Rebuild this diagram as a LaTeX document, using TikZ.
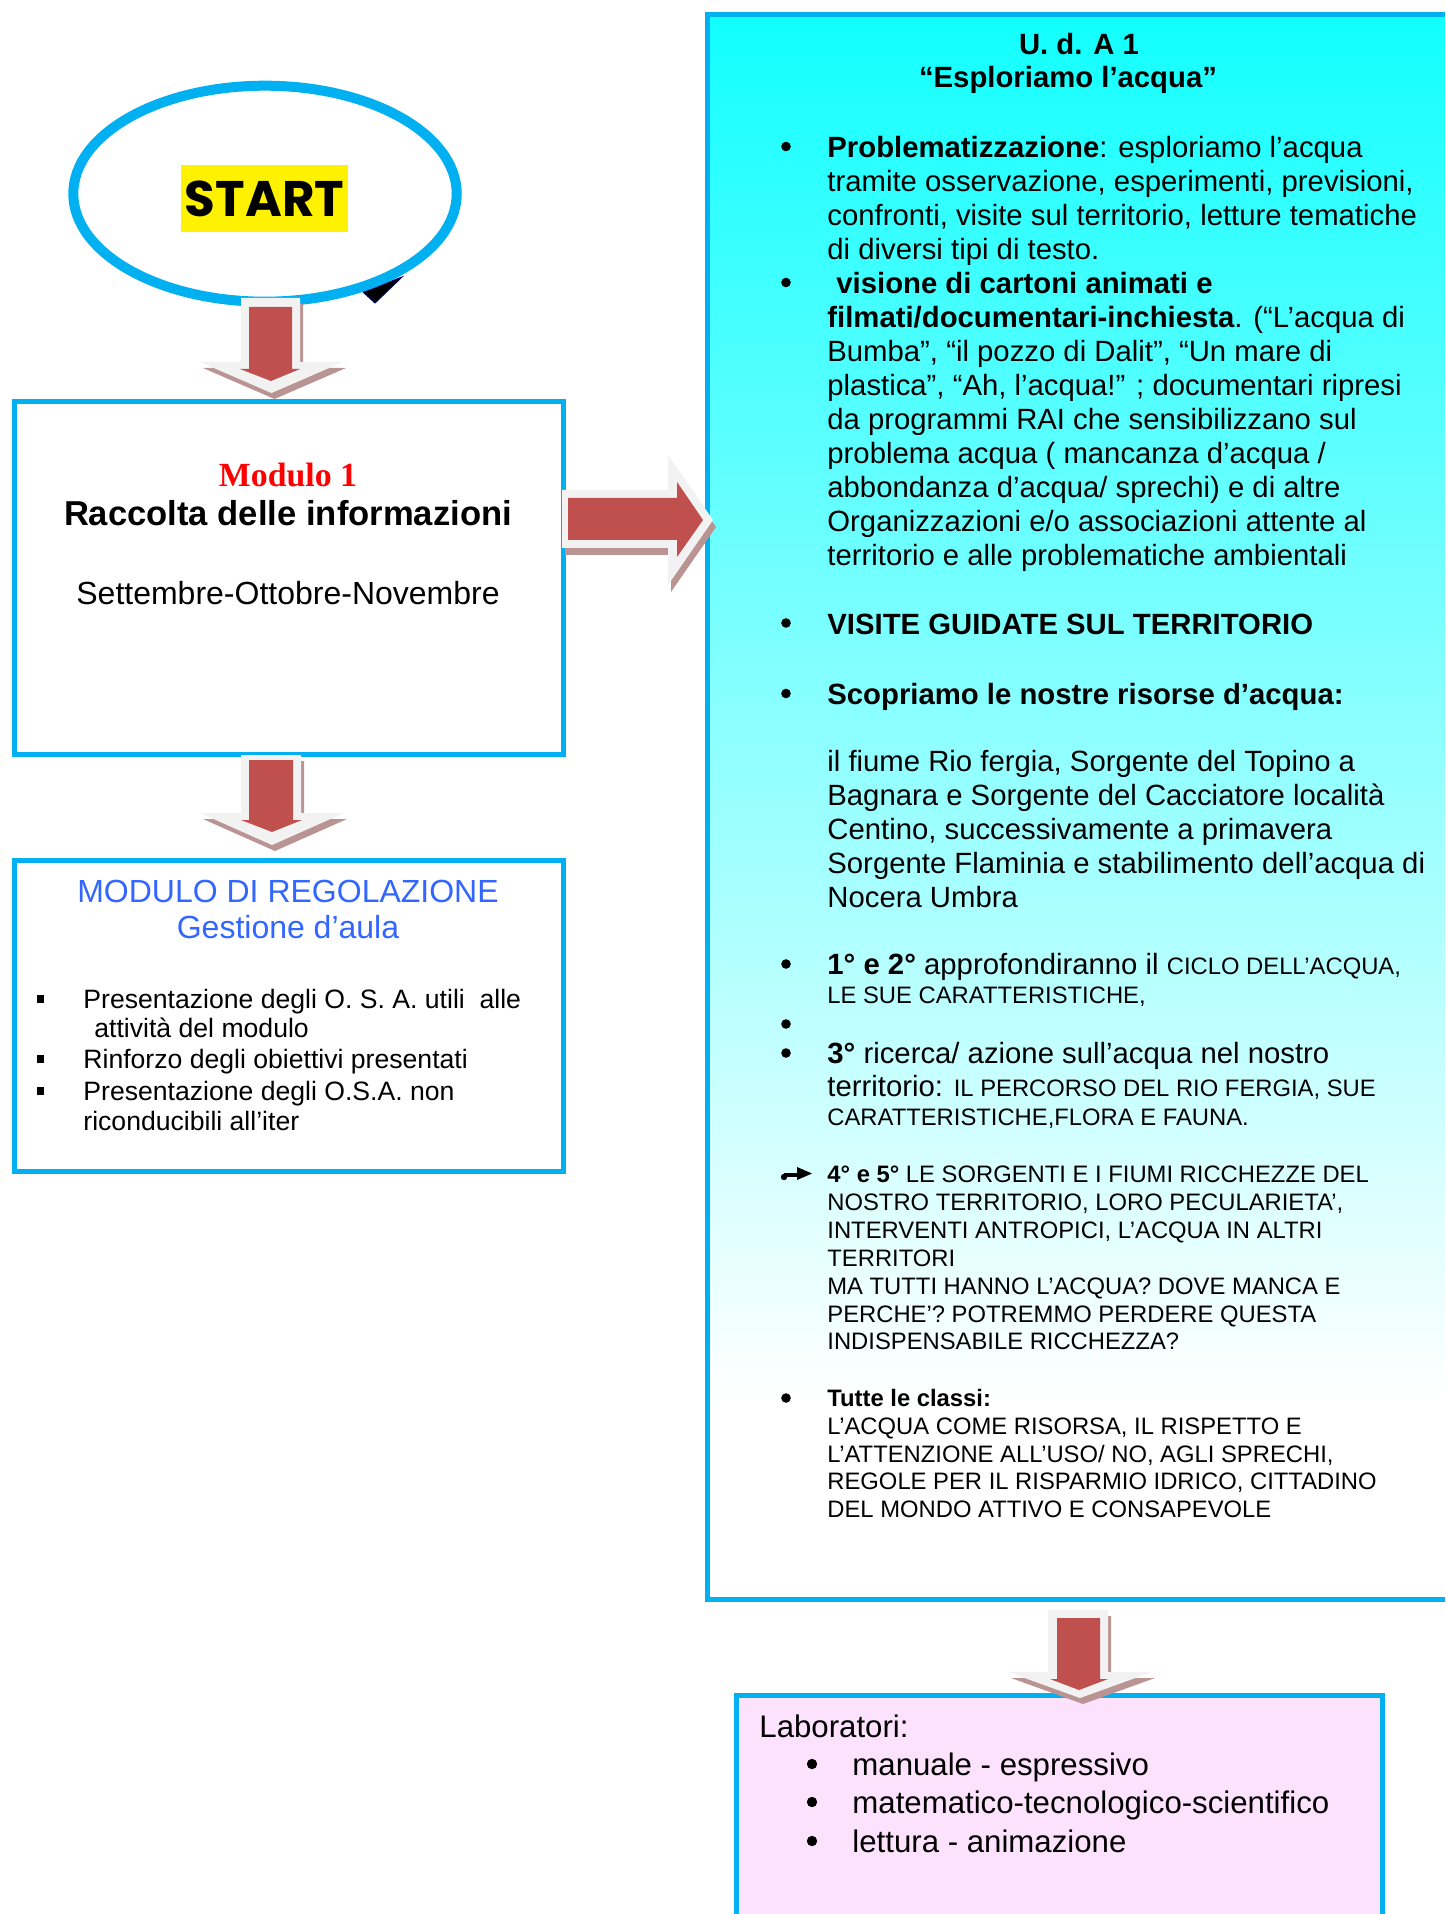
\documentclass[tikz,border=0pt]{standalone}
\usepackage{fontspec}
\setmainfont{Liberation Sans}
\newfontfamily\serifrm{Liberation Serif}
\newfontfamily\startfont{Poppins}
\usetikzlibrary{shapes.geometric}
\definecolor{cyanbd}{RGB}{0,176,240}
\definecolor{arrred}{RGB}{192,80,77}
\definecolor{arrlight}{RGB}{242,242,242}
\definecolor{arrshadow}{RGB}{185,148,147}
\definecolor{topcyan}{RGB}{18,255,255}
\definecolor{pinkfill}{RGB}{253,226,253}
\definecolor{regblue}{RGB}{51,102,255}
\definecolor{navytri}{RGB}{0,0,110}
\newcommand\mainsz{\fontsize{14.65}{17}\selectfont}
\newcommand\smallsz{\fontsize{11.9}{14}\selectfont}
\newcommand\listsz{\fontsize{13.3}{15}\selectfont}
\newcommand\labsz{\fontsize{15.6}{18}\selectfont}
\begin{document}
\begin{tikzpicture}[x=0.5pt,y=-0.5pt,
  box/.style={draw=cyanbd, line width=2.5pt, inner sep=0pt},
  ln/.style={anchor=base west, inner sep=0pt, font=\mainsz},
  sln/.style={anchor=base west, inner sep=0pt, font=\smallsz},
  lln/.style={anchor=base west, inner sep=0pt, font=\listsz},
  pln/.style={anchor=base west, inner sep=0pt, font=\labsz},
  dot/.style={circle, fill=black, inner sep=0pt, minimum size=4.8pt},
  pdot/.style={circle, fill=black, inner sep=0pt, minimum size=5.2pt},
  cln/.style={anchor=base, inner sep=0pt},
  lightpart/.style={fill=arrlight},
  redpart/.style={fill=arrred},
  shadowpart/.style={fill=arrshadow}]
\useasboundingbox (0,0) rectangle (1445,1914);
\clip (0,0) rectangle (1445,1914);

% ---------- big right box ----------
\node[fill=white, inner sep=0pt, minimum width=376pt, minimum height=792pt] (uda) at (1084,807) {};
\shade[top color=topcyan, bottom color=white] (708,15) rectangle (1460,1400);
\draw[cyanbd, line width=2.5pt] (uda.north west) rectangle (uda.south east);

% ---------- left boxes ----------
\node[box, fill=white, minimum width=274.5pt, minimum height=176pt] (mod1) at (288.5,578) {};
\node[box, fill=white, minimum width=274.5pt, minimum height=155.5pt] (modreg) at (288.5,1015.5) {};

% ---------- pink box ----------
\node[box, fill=pinkfill, minimum width=323pt, minimum height=117.5pt] (lab) at (1059,1812.5) {};

% ---------- start ellipse ----------
\filldraw[fill=black, draw=navytri, line width=0.5pt] (363,292)--(402,277)--(375,303)--cycle;
\node[ellipse, draw=cyanbd, line width=5pt, fill=white, minimum width=191.7pt, minimum height=108pt, inner sep=0pt] (start) at (265,193.7) {};
\node[fill=yellow, minimum width=83.5pt, minimum height=33.5pt, inner sep=0pt,
      font=\startfont\bfseries\fontsize{25}{30}\selectfont] (starttxt) at (264.5,198.5) {START};

% ---------- arrow 1 (start -> modulo 1) ----------
\begin{scope}[shift={(3,6)}]
\fill[shadowpart] (241,298)--(300,298)--(300,362)--(343,362)--(271.5,393)--(200,362)--(241,362)--cycle;
\end{scope}
\fill[lightpart] (241,298)--(300,298)--(300,362)--(343,362)--(271.5,393)--(200,362)--(241,362)--cycle;
\fill[redpart] (249,307)--(292,307)--(292,369)--(300,369)--(271,381)--(240,369)--(249,369)--cycle;

% ---------- arrow 2 (modulo 1 -> regolazione) ----------
\begin{scope}[shift={(3,6)}]
\fill[shadowpart] (241,755)--(301,755)--(301,813)--(344,813)--(272,845)--(200,813)--(241,813)--cycle;
\end{scope}
\fill[lightpart] (241,755)--(301,755)--(301,813)--(344,813)--(272,845)--(200,813)--(241,813)--cycle;
\fill[redpart] (249,760)--(293,760)--(293,820)--(302,820)--(272,832)--(241,820)--(249,820)--cycle;

% ---------- arrow 3 (uda -> laboratori) ----------
\begin{scope}[shift={(3,6)}]
\fill[shadowpart] (1048,1610)--(1108,1610)--(1108,1672)--(1152,1672)--(1080,1698)--(1008,1672)--(1048,1672)--cycle;
\end{scope}
\fill[lightpart] (1048,1610)--(1108,1610)--(1108,1672)--(1152,1672)--(1080,1698)--(1008,1672)--(1048,1672)--cycle;
\fill[redpart] (1057,1618)--(1100,1618)--(1100,1679)--(1108,1679)--(1079,1690)--(1050,1679)--(1057,1679)--cycle;

% ---------- right arrow (modulo 1 -> uda) ----------
\begin{scope}[shift={(3,7)}]
\fill[shadowpart] (562,490)--(668,490)--(668,455)--(713,520)--(668,585)--(668,548)--(562,548)--cycle;
\end{scope}
\fill[lightpart] (562,490)--(668,490)--(668,455)--(713,520)--(668,585)--(668,548)--(562,548)--cycle;
\fill[redpart] (568,498)--(677,498)--(677,482)--(703,520)--(677,557)--(677,540)--(568,540)--cycle;

% ---------- texts: modulo 1 ----------
\node[cln, font=\serifrm\bfseries\fontsize{16.9}{20}\selectfont, text=red] (m1a) at (288,487) {Modulo 1};
\node[cln, font=\bfseries\fontsize{17.3}{20}\selectfont] (m1b) at (288,526) {Raccolta delle informazioni};
\node[cln, font=\fontsize{16}{19}\selectfont] (m1c) at (288,604) {Settembre-Ottobre-Novembre};

% ---------- texts: regolazione ----------
\node[cln, font=\fontsize{16}{19}\selectfont, text=regblue] (r1) at (288,902) {MODULO DI REGOLAZIONE};
\node[cln, font=\fontsize{16}{19}\selectfont, text=regblue] (r2) at (288,938) {Gestione d’aula};
\fill (37,995) rectangle (44,1003);
\fill (37,1055) rectangle (44,1063);
\fill (37,1087) rectangle (44,1095);
\node[lln] (r3) at (83,1008) {Presentazione degli O. S. A. utili~ alle};
\node[lln] (r4) at (94,1037) {attività del modulo};
\node[lln] (r5) at (83,1068) {Rinforzo degli obiettivi presentati};
\node[lln] (r6) at (83,1100) {Presentazione degli O.S.A. non};
\node[lln] (r7) at (83,1130) {riconducibili all’iter};

% ---------- texts: uda ----------
\node[cln, font=\bfseries\mainsz] (t1) at (1079,55) {U. d. A 1};
\node[cln, font=\bfseries\mainsz] (t2) at (1068,88) {“Esploriamo l’acqua”};

\node[dot] (b1) at (786,146.5) {};
\node[ln] (u1) at (827,157.5) {\textbf{Problematizzazione}: esploriamo l’acqua};
\node[ln] (u2) at (827,191.5) {tramite osservazione, esperimenti, previsioni,};
\node[ln] (u3) at (827,225.5) {confronti, visite sul territorio, letture tematiche};
\node[ln] (u4) at (827,259.5) {di diversi tipi di testo.};
\node[dot] (b2) at (786,282.5) {};
\node[ln] (u5) at (836,293.5) {\textbf{visione di cartoni animati e}};
\node[ln] (u6) at (827,327.5) {\textbf{filmati/documentari-inchiesta}. (“L’acqua di};
\node[ln] (u7) at (827,361.5) {Bumba”, “il pozzo di Dalit”, “Un mare di};
\node[ln] (u8) at (827,395.5) {plastica”, “Ah, l’acqua!” ; documentari ripresi};
\node[ln] (u9) at (827,429.5) {da programmi RAI che sensibilizzano sul};
\node[ln] (u10) at (827,463.5) {problema acqua ( mancanza d’acqua /};
\node[ln] (u11) at (827,497.5) {abbondanza d’acqua/ sprechi) e di altre};
\node[ln] (u12) at (827,531.5) {Organizzazioni e/o associazioni attente al};
\node[ln] (u13) at (827,565.5) {territorio e alle problematiche ambientali};

\node[dot] (b3) at (786,623) {};
\node[ln] (u14) at (827,634) {\textbf{VISITE GUIDATE SUL TERRITORIO}};
\node[dot] (b4) at (786,693.5) {};
\node[ln] (u15) at (827,704.5) {\textbf{Scopriamo le nostre risorse d’acqua:}};

\node[ln] (u16) at (827,771.5) {il fiume Rio fergia, Sorgente del Topino a};
\node[ln] (u17) at (827,805.4) {Bagnara e Sorgente del Cacciatore località};
\node[ln] (u18) at (827,839.3) {Centino, successivamente a primavera};
\node[ln] (u19) at (827,873.2) {Sorgente Flaminia e stabilimento dell’acqua di};
\node[ln] (u20) at (827,907.1) {Nocera Umbra};

\node[dot] (b5) at (786,964) {};
\node[ln] (u21) at (827,974) {\textbf{1° e 2°} approfondiranno il {\smallsz CICLO DELL’ACQUA,}};
\node[sln] (u22) at (827,1003) {LE SUE CARATTERISTICHE,};
\node[dot] (b6) at (786,1024) {};
\node[dot] (b7) at (786,1053) {};
\node[ln] (u23) at (827,1063) {\textbf{3°} ricerca/ azione sull’acqua nel nostro};
\node[ln] (u24) at (827,1096) {territorio: {\smallsz IL PERCORSO DEL RIO FERGIA, SUE}};
\node[sln] (u25) at (827,1125) {CARATTERISTICHE,FLORA E FAUNA.};

% arrow bullet
\fill (784,1177) circle (3.2);
\fill (784,1173) rectangle (797,1176.5);
\fill (797,1167)--(812,1173.5)--(797,1180)--cycle;
\node[sln] (u26) at (827,1182.5) {\textbf{4° e 5°} LE SORGENTI E I FIUMI RICCHEZZE DEL};
\node[sln] (u27) at (827,1210.4) {NOSTRO TERRITORIO, LORO PECULARIETA’,};
\node[sln] (u28) at (827,1238.3) {INTERVENTI ANTROPICI, L’ACQUA IN ALTRI};
\node[sln] (u29) at (827,1266.2) {TERRITORI};
\node[sln] (u30) at (827,1294.1) {MA TUTTI HANNO L’ACQUA? DOVE MANCA E};
\node[sln] (u31) at (827,1322) {PERCHE’? POTREMMO PERDERE QUESTA};
\node[sln] (u32) at (827,1349.9) {INDISPENSABILE RICCHEZZA?};

\node[dot] (b8) at (786,1398) {};
\node[sln] (u33) at (827,1406) {\textbf{Tutte le classi:}};
\node[sln] (u34) at (827,1434) {L’ACQUA COME RISORSA, IL RISPETTO E};
\node[sln] (u35) at (827,1462) {L’ATTENZIONE ALL’USO/ NO, AGLI SPRECHI,};
\node[sln] (u36) at (827,1489.5) {REGOLE PER IL RISPARMIO IDRICO, CITTADINO};
\node[sln] (u37) at (827,1517) {DEL MONDO ATTIVO E CONSAPEVOLE};

% ---------- texts: laboratori ----------
\node[pln] (l0) at (759,1737) {Laboratori:};
\node[pdot] (lb1) at (812,1764) {};
\node[pdot] (lb2) at (812,1802) {};
\node[pdot] (lb3) at (812,1841) {};
\node[pln] (l1) at (852,1775) {manuale - espressivo};
\node[pln] (l2) at (852,1813) {matematico-tecnologico-scientifico};
\node[pln] (l3) at (852,1852) {lettura - animazione};
\end{tikzpicture}
\end{document}
